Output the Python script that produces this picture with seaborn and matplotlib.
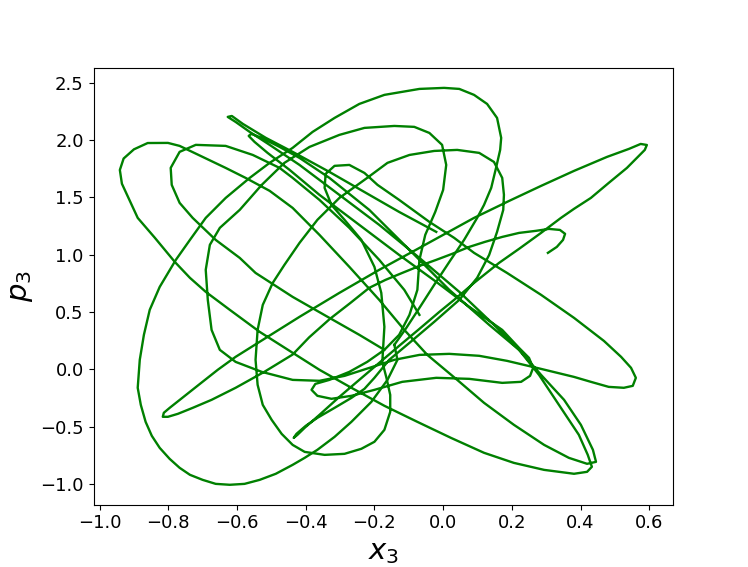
import numpy as np
import seaborn as sns
import matplotlib
matplotlib.use('Agg')
import matplotlib.pyplot as plt

# trajectory in the (x3, p3) plane
x_hook = [0.305, 0.331, 0.349, 0.355, 0.340, 0.308, 0.270, 0.221, 0.172, 0.122, 0.076, 0.026, -0.020, -0.069,
          -0.119, -0.168, -0.215, -0.27, -0.33, -0.39, -0.438, -0.52, -0.604, -0.674, -0.729, -0.772, -0.801, -0.816]
p_hook = [1.017, 1.069, 1.130, 1.183, 1.217, 1.226, 1.209, 1.191, 1.156, 1.113, 1.069, 1.008, 0.956, 0.903,
          0.842, 0.781, 0.712, 0.58, 0.44, 0.28, 0.13, -0.02, -0.16, -0.265, -0.335, -0.387, -0.413, -0.413]

x_cross = [-0.813, -0.796, -0.752, -0.708, -0.656, -0.604, -0.511, -0.418, -0.302, -0.186, -0.069, 0.090, 0.192,
           0.285, 0.381, 0.477, 0.541, 0.575, 0.593, 0.587, 0.564, 0.535, 0.482, 0.430, 0.381, 0.343, 0.285, 0.221,
           0.163, 0.090, 0.032, -0.011, -0.069, -0.128, -0.186, -0.244, -0.302, -0.360, -0.403, -0.424, -0.435,
           -0.427, -0.400, -0.366, -0.316, -0.267, -0.229, -0.200]
p_cross = [-0.378, -0.335, -0.230, -0.126, -0.003, 0.110, 0.284, 0.459, 0.668, 0.869, 1.060, 1.322, 1.470,
           1.601, 1.732, 1.854, 1.924, 1.967, 1.958, 1.915, 1.845, 1.758, 1.627, 1.496, 1.401, 1.322, 1.191, 1.052,
           0.930, 0.755, 0.607, 0.502, 0.354, 0.206, 0.058, -0.091, -0.239, -0.396, -0.509, -0.570, -0.597,
           -0.562, -0.492, -0.422, -0.335, -0.248, -0.169, -0.073]

x_e3 = [-0.157, -0.098, -0.026, 0.047, 0.099, 0.134, 0.157, 0.175, 0.177, 0.172, 0.148, 0.105, 0.041, -0.026,
        -0.098, -0.162, -0.221, -0.302, -0.366, -0.418, -0.462, -0.496, -0.525, -0.540, -0.546, -0.540, -0.525,
        -0.499, -0.470, -0.438, -0.403, -0.345, -0.287, -0.238, -0.200, -0.171, -0.154, -0.154, -0.165, -0.177]
p_e3 = [0.084, 0.232, 0.415, 0.607, 0.799, 0.999, 1.200, 1.392, 1.523, 1.671, 1.810, 1.889, 1.915, 1.906,
        1.871, 1.802, 1.671, 1.496, 1.305, 1.104, 0.912, 0.755, 0.563, 0.345, 0.084, -0.134, -0.309,
        -0.440, -0.562, -0.658, -0.719, -0.745, -0.736, -0.692, -0.631, -0.527, -0.370, -0.222, -0.073, 0.066]

x_tear = [-0.174, -0.171, -0.180, -0.200, -0.238, -0.287, -0.325, -0.345, -0.342, -0.316, -0.273, -0.229, -0.191,
          -0.128, -0.040, 0.032, 0.090, 0.186, 0.285, 0.381, 0.468, 0.518, 0.547, 0.561, 0.552, 0.526, 0.482,
          0.430, 0.381, 0.285, 0.186, 0.105, 0.018, -0.069, -0.142, -0.215, -0.287, -0.360, -0.438]
p_tear = [0.215, 0.372, 0.668, 0.895, 1.130, 1.305, 1.435, 1.584, 1.706, 1.776, 1.784, 1.714, 1.610,
          1.479, 1.287, 1.148, 1.017, 0.842, 0.651, 0.450, 0.249, 0.110, 0.014, -0.073, -0.143, -0.160, -0.152,
          -0.108, -0.065, 0.005, 0.075, 0.119, 0.136, 0.127, 0.084, 0.014, -0.056, -0.099, -0.091]

x_e2 = [-0.528, -0.604, -0.650, -0.674, -0.685, -0.691, -0.679, -0.650, -0.592, -0.528, -0.462, -0.389, -0.302,
        -0.229, -0.142, -0.084, -0.040, -0.003, 0.009, 0.000, -0.023, -0.052, -0.069, -0.075, -0.098, -0.128,
        -0.171, -0.221, -0.273, -0.331, -0.372, -0.383, -0.366, -0.325, -0.267, -0.200, -0.119, -0.020, 0.076,
        0.172, 0.227, 0.253, 0.262, 0.250, 0.221]
p_e2 = [-0.021, 0.066, 0.171, 0.345, 0.607, 0.869, 1.087, 1.235, 1.392, 1.610, 1.802, 1.941, 2.046,
        2.107, 2.124, 2.116, 2.063, 1.959, 1.784, 1.566, 1.374, 1.174, 0.956, 0.694, 0.476, 0.302,
        0.171, 0.066, -0.021, -0.091, -0.126, -0.178, -0.230, -0.256, -0.230, -0.178, -0.108, -0.073, -0.082,
        -0.117, -0.108, -0.056, 0.014, 0.101, 0.188]

x_dbl = [0.172, 0.076, -0.020, -0.128, -0.244, -0.360, -0.447, -0.511, -0.549, -0.566, -0.558, -0.528, -0.476,
         -0.418, -0.331, -0.215, -0.098, 0.018, 0.134, 0.221, 0.279, 0.337, 0.395, 0.421, 0.433, 0.419, 0.381,
         0.294, 0.206, 0.119, 0.023, -0.075, -0.171, -0.267, -0.360, -0.438]
p_dbl = [0.345, 0.546, 0.764, 0.999, 1.261, 1.523, 1.741, 1.889, 1.985, 2.037, 2.055, 2.020, 1.941,
         1.845, 1.671, 1.392, 1.043, 0.694, 0.389, 0.171, -0.047, -0.309, -0.570, -0.745, -0.849, -0.893, -0.910,
         -0.876, -0.815, -0.727, -0.597, -0.457, -0.317, -0.160, -0.003, 0.145]

x_l1 = [-0.534, -0.621, -0.691, -0.737, -0.781, -0.839, -0.889, -0.920, -0.935, -0.941, -0.930, -0.900, -0.860,
        -0.801, -0.767, -0.700, -0.633, -0.575, -0.505, -0.438, -0.360, -0.273, -0.186, -0.113, -0.046, 0.041,
        0.119, 0.206, 0.294, 0.366, 0.419, 0.445, 0.436, 0.401, 0.352, 0.285, 0.227, 0.148, 0.047, -0.069,
        -0.186, -0.302, -0.418, -0.505, -0.563, -0.604, -0.627, -0.615, -0.583, -0.516, -0.438, -0.331, -0.215,
        -0.128, -0.020]
p_l1 = [0.328, 0.520, 0.677, 0.799, 0.938, 1.148, 1.322, 1.523, 1.620, 1.740, 1.840, 1.920, 1.975,
        1.976, 1.950, 1.854, 1.758, 1.671, 1.558, 1.409, 1.174, 0.895, 0.607, 0.345, 0.127, -0.091,
        -0.291, -0.483, -0.658, -0.771, -0.823, -0.806, -0.701, -0.483, -0.265, -0.047, 0.153, 0.389, 0.677,
        0.973, 1.261, 1.523, 1.784, 1.959, 2.072, 2.159, 2.203, 2.211, 2.142, 2.020, 1.898, 1.723, 1.523,
        1.374, 1.200]

x_e1 = [-0.142, -0.107, -0.069, -0.026, 0.018, 0.061, 0.099, 0.119, 0.140, 0.154, 0.166, 0.169, 0.157, 0.128,
        0.090, 0.047, 0.003, -0.069, -0.171, -0.244, -0.316, -0.380, -0.438, -0.505, -0.563, -0.633, -0.691,
        -0.737, -0.778, -0.825, -0.854, -0.871, -0.883, -0.889, -0.880, -0.866, -0.848, -0.825, -0.796, -0.767,
        -0.737, -0.700, -0.662, -0.621, -0.578, -0.534, -0.487, -0.438, -0.403, -0.366, -0.316, -0.267, -0.209,
        -0.162, -0.133, -0.142]
p_e1 = [0.215, 0.363, 0.537, 0.738, 0.938, 1.130, 1.322, 1.435, 1.584, 1.758, 1.915, 2.020, 2.194, 2.316,
        2.395, 2.447, 2.456, 2.447, 2.395, 2.316, 2.194, 2.072, 1.933, 1.802, 1.671, 1.496, 1.322,
        1.130, 0.956, 0.720, 0.520, 0.302, 0.084, -0.160, -0.309, -0.457, -0.579, -0.684, -0.780, -0.858,
        -0.919, -0.963, -0.998, -1.006, -0.998, -0.963, -0.910, -0.832, -0.771, -0.701, -0.588, -0.457, -0.283,
        -0.091, 0.084, 0.215]

x_l2 = [-0.069, -0.113, -0.186, -0.273, -0.360, -0.438, -0.476, -0.554, -0.633, -0.720, -0.767, -0.793, -0.790,
        -0.767, -0.729, -0.662, -0.592, -0.546, -0.438, -0.331, -0.244, -0.171]
p_l2 = [0.476, 0.694, 0.956, 1.235, 1.479, 1.671, 1.758, 1.871, 1.950, 1.959, 1.898, 1.758, 1.610,
        1.453, 1.322, 1.130, 0.973, 0.842, 0.633, 0.450, 0.302, 0.171]

x_main = x_hook + x_cross + x_e3 + x_tear + x_e2 + x_dbl + x_l1
p_main = p_hook + p_cross + p_e3 + p_tear + p_e2 + p_dbl + p_l1

fig, ax = plt.subplots(figsize=(7.48, 5.67), dpi=100)
for xs, ps in [(x_main, p_main), (x_e1, p_e1), (x_l2, p_l2)]:
    sns.lineplot(x=xs, y=ps, sort=False, estimator=None, color='green', lw=1.7, ax=ax)

ax.set_xlabel('$x_3$', fontsize=21)
ax.set_ylabel('$p_3$', fontsize=21)
ax.tick_params(labelsize=13)
fig.savefig('out.png', dpi=100)
